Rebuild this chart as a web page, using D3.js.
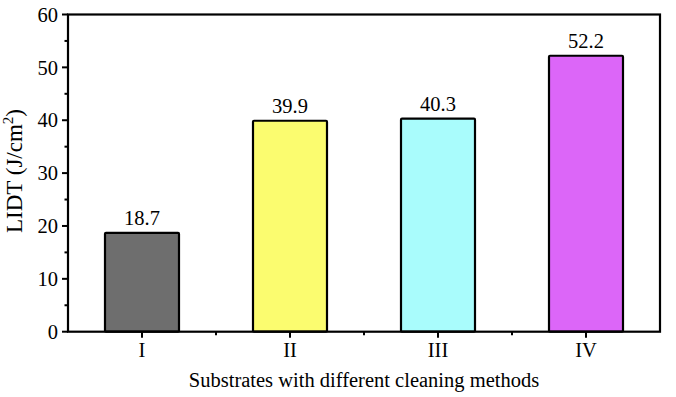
<!DOCTYPE html>
<html><head><meta charset="utf-8">
<script src="https://cdn.jsdelivr.net/npm/d3@7"></script>
<style>body{margin:0;background:#fff}svg{display:block}text{font-family:"Liberation Serif","Times New Roman",serif;fill:#000}</style>
</head><body><svg id="c" width="676" height="397"></svg>
<script>
const categories = ["I","II","III","IV"];
const values = [18.7, 39.9, 40.3, 52.2];
const colors = ["#6e6e6e","#fbfc6f","#a9fcfc","#dc66f8"];
const yTicks = [0,10,20,30,40,50,60];
const yMinor = [5,15,25,35,45,55];

const FS = 20.5;
const m = {l:68, r:16, t:14.5, b:65.3};
const W = 676, H = 397;
const svg = d3.select("#c");
const x = d3.scaleBand().domain(categories).range([m.l, W-m.r]).paddingInner(0.5).paddingOuter(0.25);
const xb = d3.scaleBand().domain(categories).range([m.l, W-m.r]);
const y = d3.scaleLinear().domain([0,60]).range([H-m.b, m.t]);

// bars
svg.selectAll("rect.bar").data(values).enter().append("rect")
  .attr("x",(d,i)=>x(categories[i]))
  .attr("y",d=>y(d))
  .attr("width",x.bandwidth())
  .attr("height",d=>y(0)-y(d))
  .attr("fill",(d,i)=>colors[i])
  .attr("stroke","#000").attr("stroke-width",2.2).attr("rx",1);

// value labels
svg.selectAll("text.val").data(values).enter().append("text")
  .attr("x",(d,i)=>x(categories[i])+x.bandwidth()/2)
  .attr("y",d=>y(d)-8)
  .attr("text-anchor","middle").attr("font-size",FS)
  .text(d=>d.toFixed(1));

// frame
const fr = svg.append("g").attr("stroke","#000").attr("stroke-width",2.2).attr("fill","none");
fr.append("rect").attr("x",m.l).attr("y",m.t).attr("width",W-m.r-m.l).attr("height",H-m.b-m.t);

// y ticks
const ya = svg.append("g");
ya.selectAll("line.maj").data(yTicks).enter().append("line")
  .attr("x1",m.l-6).attr("x2",m.l).attr("y1",d=>y(d)).attr("y2",d=>y(d))
  .attr("stroke","#000").attr("stroke-width",2);
ya.selectAll("line.min").data(yMinor).enter().append("line")
  .attr("x1",m.l-3.5).attr("x2",m.l).attr("y1",d=>y(d)).attr("y2",d=>y(d))
  .attr("stroke","#000").attr("stroke-width",2);
ya.selectAll("text").data(yTicks).enter().append("text")
  .attr("x",m.l-10).attr("y",d=>y(d)).attr("dy","0.35em")
  .attr("text-anchor","end").attr("font-size",FS).text(d=>d);

// x ticks
const xa = svg.append("g");
xa.selectAll("line.maj").data(categories).enter().append("line")
  .attr("x1",d=>xb(d)+xb.bandwidth()/2).attr("x2",d=>xb(d)+xb.bandwidth()/2)
  .attr("y1",y(0)).attr("y2",y(0)+6).attr("stroke","#000").attr("stroke-width",2);
xa.selectAll("line.min").data(categories.slice(1)).enter().append("line")
  .attr("x1",d=>xb(d)).attr("x2",d=>xb(d))
  .attr("y1",y(0)).attr("y2",y(0)+3.5).attr("stroke","#000").attr("stroke-width",2);
xa.selectAll("text").data(categories).enter().append("text")
  .attr("x",d=>xb(d)+xb.bandwidth()/2).attr("y",y(0)+25.5)
  .attr("text-anchor","middle").attr("font-size",FS).text(d=>d);

// axis titles
svg.append("text").attr("x",(m.l+W-m.r)/2).attr("y",387)
  .attr("text-anchor","middle").attr("font-size",FS)
  .text("Substrates with different cleaning methods");
const yt = svg.append("text").attr("transform",`translate(22,171) rotate(-90)`)
  .attr("text-anchor","middle").attr("font-size",23);
yt.append("tspan").text("LIDT (J/cm");
yt.append("tspan").attr("font-size",15).attr("dy",-9.5).text("2");
yt.append("tspan").attr("dy",9.5).text(")");
</script></body></html>
